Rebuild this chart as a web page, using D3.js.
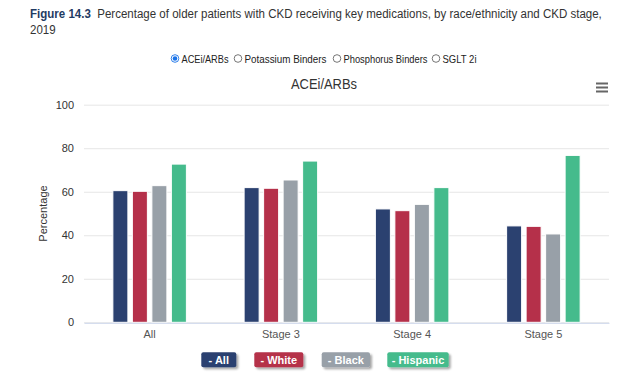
<!DOCTYPE html>
<html><head><meta charset="utf-8">
<script src="https://cdn.jsdelivr.net/npm/d3@7"></script>
<style>
body{margin:0;background:#fff;font-family:"Liberation Sans",Arial,sans-serif;}
svg{display:block;}
</style></head>
<body>
<svg id="c" width="624" height="378"></svg>
<script>
const categories = ["All", "Stage 3", "Stage 4", "Stage 5"];
const seriesNames = ["All", "White", "Black", "Hispanic"];
const seriesColors = ["#2b4170", "#b5304a", "#98a0a8", "#45bb8c"];
const valuesAll = [60.5, 61.9, 52.1, 44.3];
const valuesWhite = [60.2, 61.6, 51.3, 44.1];
const valuesBlack = [62.8, 65.4, 54.2, 40.6];
const valuesHispanic = [72.7, 74.1, 61.9, 76.7];
const yTicks = [0, 20, 40, 60, 80, 100];
const radioLabels = ["ACEi/ARBs", "Potassium Binders", "Phosphorus Binders", "SGLT 2i"];

const seriesValues = [valuesAll, valuesWhite, valuesBlack, valuesHispanic];
const svg = d3.select("#c");

// Figure title (horizontally fitted to the reference line width)
const t1 = svg.append("text").attr("font-size", 13.5).attr("fill", "#333").attr("xml:space", "preserve");
t1.append("tspan").attr("font-weight", "bold").attr("fill", "#1f3b63").text("Figure 14.3");
t1.append("tspan").text("  Percentage of older patients with CKD receiving key medications, by race/ethnicity and CKD stage,");
const natural = t1.node().getComputedTextLength();
const sx = (602 - 30) / natural;
t1.attr("transform", `translate(30,17.5) scale(${sx},1)`);
svg.append("text").attr("font-size", 13.5).attr("fill", "#333")
  .attr("transform", `translate(30,34) scale(${sx},1)`).text("2019");

// Radio buttons
const radioCx = [175, 238, 337, 436];
const radioW = [47, 82, 84, 34];
const radioG = svg.append("g").attr("font-size", 11).attr("fill", "#222");
radioLabels.forEach((lab, i) => {
  const cx = radioCx[i];
  radioG.append("circle").attr("cx", cx).attr("cy", 58.5).attr("r", 3.8).attr("fill", "#fff")
    .attr("stroke", i === 0 ? "#1a73e8" : "#666").attr("stroke-width", 0.9);
  if (i === 0) radioG.append("circle").attr("cx", cx).attr("cy", 58.5).attr("r", 2.3).attr("fill", "#1a73e8");
  radioG.append("text").attr("x", cx + 6.5).attr("y", 62.5).attr("textLength", radioW[i])
    .attr("lengthAdjust", "spacingAndGlyphs").text(lab);
});

// Chart title
svg.append("text").attr("x", 291).attr("y", 89).attr("textLength", 66).attr("lengthAdjust", "spacingAndGlyphs")
  .attr("font-size", 14.5).attr("fill", "#333").text("ACEi/ARBs");

// Menu icon
[83.5, 87.5, 91.5].forEach(y => {
  svg.append("rect").attr("x", 596).attr("y", y - 1).attr("width", 12).attr("height", 2).attr("fill", "#666");
});

// Scales
const x0 = d3.scaleBand().domain(categories).range([84, 609]).paddingInner(0).paddingOuter(0);
const x1 = d3.scaleBand().domain(seriesNames).range([0, x0.bandwidth()]).paddingInner(0.23).paddingOuter(1.48);
const y = d3.scaleLinear().domain([0, 100]).range([322.3, 104.7]);

// Gridlines
const grid = svg.append("g").attr("transform", "translate(84,0)")
  .call(d3.axisLeft(y).tickValues(yTicks).tickSize(-525).tickFormat(""));
grid.select(".domain").remove();
grid.selectAll("line").attr("stroke", "#e6e6e6");

// Y labels
const yAx = svg.append("g").attr("transform", "translate(74,0)")
  .call(d3.axisLeft(y).tickValues(yTicks).tickSize(0).tickPadding(0));
yAx.select(".domain").remove();
yAx.selectAll("text").attr("font-size", 11).attr("fill", "#333").attr("font-family", "Liberation Sans, Arial, sans-serif");

svg.append("text").attr("transform", "translate(47,213.5) rotate(-90)").attr("text-anchor", "middle")
  .attr("font-size", 11).attr("fill", "#333").text("Percentage");

// Bars
categories.forEach((cat, ci) => {
  seriesNames.forEach((s, si) => {
    const v = seriesValues[si][ci];
    svg.append("rect")
      .attr("x", x0(cat) + x1(s))
      .attr("y", y(v))
      .attr("width", x1.bandwidth())
      .attr("height", y(0) - y(v))
      .attr("fill", seriesColors[si])
      .attr("stroke", "#fff").attr("stroke-width", 1);
  });
});

// X axis
const xAx = svg.append("g").attr("transform", "translate(0,322.8)").call(d3.axisBottom(x0).tickSize(0).tickPadding(7));
xAx.select(".domain").attr("stroke", "#ccd6eb");
xAx.selectAll("text").attr("font-size", 11).attr("fill", "#555").attr("font-family", "Liberation Sans, Arial, sans-serif");

// Legend buttons
const defs = svg.append("defs");
const f = defs.append("filter").attr("id", "sh").attr("x", "-20%").attr("y", "-30%").attr("width", "150%").attr("height", "180%");
f.append("feDropShadow").attr("dx", 2).attr("dy", 2).attr("stdDeviation", 1.3).attr("flood-color", "#000").attr("flood-opacity", 0.35);
const legendX = [[201.3, 236.3], [254.3, 303.3], [321.7, 370], [387.3, 448.7]];
seriesNames.forEach((s, i) => {
  const [a, b] = legendX[i];
  svg.append("rect").attr("x", a).attr("y", 352.3).attr("width", b - a).attr("height", 15).attr("rx", 2)
    .attr("fill", seriesColors[i]).attr("filter", "url(#sh)");
  svg.append("text").attr("x", (a + b) / 2).attr("y", 363.8).attr("text-anchor", "middle")
    .attr("font-size", 11).attr("font-weight", "bold").attr("fill", "#fff").text("- " + s);
});
</script>
</body></html>
